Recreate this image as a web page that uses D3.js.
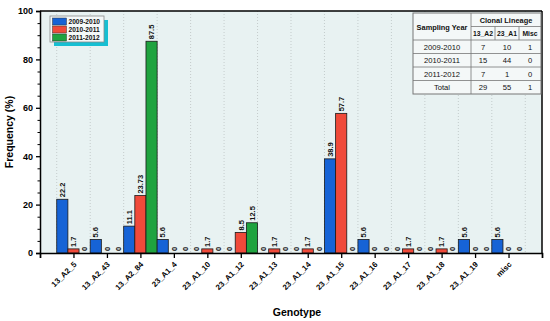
<!DOCTYPE html>
<meta charset="utf-8">
<html>
<head>
    <title>Genotype frequency</title>
</head>
<style type="text/css">
    body{ margin:0; background:#fff; }
    text{ font-family: "Liberation Sans", Arial, sans-serif; font-weight: bold; }
    text.plain{ font-weight: normal; }
</style>
<script src="https://cdn.jsdelivr.net/npm/d3@7"></script>
<body>
<script type="text/javascript">
var genotypes = ["13_A2_5","13_A2_43","13_A2_84","23_A1_4","23_A1_10","23_A1_12","23_A1_13",
                 "23_A1_14","23_A1_15","23_A1_16","23_A1_17","23_A1_18","23_A1_19","misc"]
var seasons = ["2009-2010","2010-2011","2011-2012"]
var v0910 = [22.2, 5.6, 11.1, 5.6, 0, 0, 0, 0, 38.9, 5.6, 0, 0, 5.6, 5.6]
var v1011 = [1.7, 0, 23.73, 0, 1.7, 8.5, 1.7, 1.7, 57.7, 0, 1.7, 1.7, 0, 0]
var v1112 = [0, 0, 87.5, 0, 0, 12.5, 0, 0, 0, 0, 0, 0, 0, 0]
var yTicks = [0, 20, 40, 60, 80, 100]
var tableHead = ["13_A2", "23_A1", "Misc"]
var tableRows = [["2009-2010", 7, 10, 1], ["2010-2011", 15, 44, 0], ["2011-2012", 7, 1, 0], ["Total", 29, 55, 1]]

var colors = ["#1663d6", "#f04a3a", "#1fa33f"]
var series = [v0910, v1011, v1112]

var svgWidth = 550, svgHeight = 321
var margin = {top: 11, right: 8, bottom: 68, left: 40}
var width = svgWidth - margin.left - margin.right
var height = svgHeight - margin.top - margin.bottom

var svg = d3.select("body").append("svg")
    .attr("width", svgWidth).attr("height", svgHeight)

var g = svg.append("g").attr("transform", "translate(" + margin.left + "," + margin.top + ")")

var x = d3.scaleLinear().domain([0, genotypes.length + 1]).range([0, width])
var y = d3.scaleLinear().domain([0, 100]).range([height, 0])
var step = x(1) - x(0)
var bw = step / 3

g.append("rect").attr("width", width).attr("height", height).attr("fill", "#e8f2f2")

// dotted vertical grid between groups
g.selectAll(".grid").data(d3.range(0.5, genotypes.length + 1, 1)).enter()
    .append("line")
    .attr("x1", d => x(d)).attr("x2", d => x(d))
    .attr("y1", 0).attr("y2", height)
    .attr("stroke", "#b5bcbc").attr("stroke-width", 0.7).attr("stroke-dasharray", "1,2")

// bars
var flat = []
genotypes.forEach((gname, i) => {
    series.forEach((s, j) => flat.push({i: i + 1, j: j, v: s[i]}))
})

g.selectAll(".bar").data(flat.filter(d => d.v > 0)).enter()
    .append("rect")
    .attr("class", "bar")
    .attr("x", d => x(d.i - 0.5) + d.j * bw)
    .attr("y", d => y(d.v))
    .attr("width", bw)
    .attr("height", d => height - y(d.v))
    .attr("fill", d => colors[d.j])
    .attr("stroke", "#1a1a1a").attr("stroke-width", 0.8)

g.selectAll(".vlab").data(flat).enter()
    .append("text")
    .attr("transform", d => "translate(" + (x(d.i - 0.5) + d.j * bw + bw / 2 + 2.7) + "," + (y(d.v) - 2) + ") rotate(-90)")
    .attr("font-size", "7.5px")
    .attr("fill", "#111")
    .text(d => d.v)

// frame
g.append("line").attr("x1", 0).attr("x2", width).attr("y1", 0).attr("y2", 0)
    .attr("stroke", "#000").attr("stroke-width", 1.5)
g.append("line").attr("x1", width).attr("x2", width).attr("y1", 0).attr("y2", height)
    .attr("stroke", "#000").attr("stroke-width", 1.5)

// y axis
var yAxis = g.append("g").call(d3.axisLeft(y).tickValues(yTicks).tickSize(4).tickPadding(3))
yAxis.select(".domain").attr("stroke-width", 1.5)
yAxis.selectAll(".tick line").attr("stroke-width", 1.3)
yAxis.selectAll("text").attr("font-size", "9px").attr("font-weight", "bold").attr("font-family", "Liberation Sans, Arial, sans-serif")
g.append("g").call(d3.axisLeft(y).tickValues(d3.range(0, 101, 5).filter(d => d % 20)).tickSize(2.5).tickFormat(""))
    .call(a => a.select(".domain").remove())

// x axis
var xAxis = g.append("g").attr("transform", "translate(0," + height + ")")
    .call(d3.axisBottom(x).tickValues(d3.range(0, genotypes.length + 2)).tickSize(5)
        .tickFormat(d => genotypes[d - 1] || ""))
xAxis.select(".domain").attr("stroke-width", 1.5)
xAxis.selectAll(".tick line").attr("stroke-width", 1.3)
xAxis.selectAll("text")
    .attr("font-size", "7.8px").attr("font-weight", "bold").attr("font-family", "Liberation Sans, Arial, sans-serif")
    .attr("text-anchor", "end")
    .attr("y", 0).attr("dy", 0)
    .attr("transform", "translate(3,12) rotate(-45)")

// axis titles
svg.append("text").attr("x", margin.left + width / 2 + 6).attr("y", 316)
    .attr("text-anchor", "middle").attr("font-size", "10.5px").text("Genotype")
svg.append("text").attr("transform", "translate(13," + (margin.top + height / 2) + ") rotate(-90)")
    .attr("text-anchor", "middle").attr("font-size", "10.5px").text("Frequency (%)")

// legend
var leg = svg.append("g").attr("transform", "translate(50,16)")
leg.append("rect").attr("x", 4).attr("y", 4).attr("width", 54).attr("height", 26).attr("fill", "#16bfd2")
leg.append("rect").attr("width", 54).attr("height", 26).attr("fill", "#f4f8f8")
    .attr("stroke", "#8a8a8a").attr("stroke-width", 0.8)
seasons.forEach((s, j) => {
    leg.append("rect").attr("x", 2.5).attr("y", 2 + j * 8).attr("width", 14).attr("height", 7)
        .attr("fill", colors[j]).attr("stroke", "#333").attr("stroke-width", 0.5)
    leg.append("text").attr("x", 18.5).attr("y", 8 + j * 8).attr("font-size", "6.6px").attr("fill", "#111").text(s)
})

// table
var tb = svg.append("g").attr("transform", "translate(413,13)")
var colX = [0, 58, 82, 106, 128]
var rowH = 13.5
tb.append("rect").attr("width", colX[4]).attr("height", rowH * 6).attr("fill", "#f4f8f8")
    .attr("stroke", "#777").attr("stroke-width", 1)
var hl = [[colX[0], colX[4], rowH * 2], [colX[0], colX[4], rowH * 3], [colX[0], colX[4], rowH * 4],
          [colX[0], colX[4], rowH * 5], [colX[1], colX[4], rowH]]
hl.forEach(h => tb.append("line").attr("x1", h[0]).attr("x2", h[1]).attr("y1", h[2]).attr("y2", h[2])
    .attr("stroke", "#777").attr("stroke-width", 0.8))
tb.append("line").attr("x1", colX[1]).attr("x2", colX[1]).attr("y1", 0).attr("y2", rowH * 6)
    .attr("stroke", "#777").attr("stroke-width", 0.8)
;[2, 3].forEach(c => tb.append("line").attr("x1", colX[c]).attr("x2", colX[c]).attr("y1", rowH).attr("y2", rowH * 2)
    .attr("stroke", "#777").attr("stroke-width", 0.8))
tb.append("text").attr("x", colX[1] / 2).attr("y", rowH + 3).attr("text-anchor", "middle")
    .attr("font-size", "7.4px").attr("fill", "#111").text("Sampling Year")
tb.append("text").attr("x", (colX[1] + colX[4]) / 2).attr("y", rowH / 2 + 3).attr("text-anchor", "middle")
    .attr("font-size", "7.4px").attr("fill", "#111").text("Clonal Lineage")
tableHead.forEach((h, c) => tb.append("text").attr("x", (colX[c + 1] + colX[c + 2]) / 2).attr("y", rowH * 1.5 + 2.5)
    .attr("text-anchor", "middle").attr("font-size", "6.8px").attr("fill", "#111").text(h))
tableRows.forEach((r, ri) => r.forEach((v, c) => {
    tb.append("text").attr("class", "plain").attr("x", (colX[c] + colX[c + 1]) / 2).attr("y", rowH * (2.5 + ri) + 2.8)
        .attr("text-anchor", "middle").attr("font-size", "7.6px")
        .attr("fill", "#111").text(v)
}))
</script>
</body>
</html>
